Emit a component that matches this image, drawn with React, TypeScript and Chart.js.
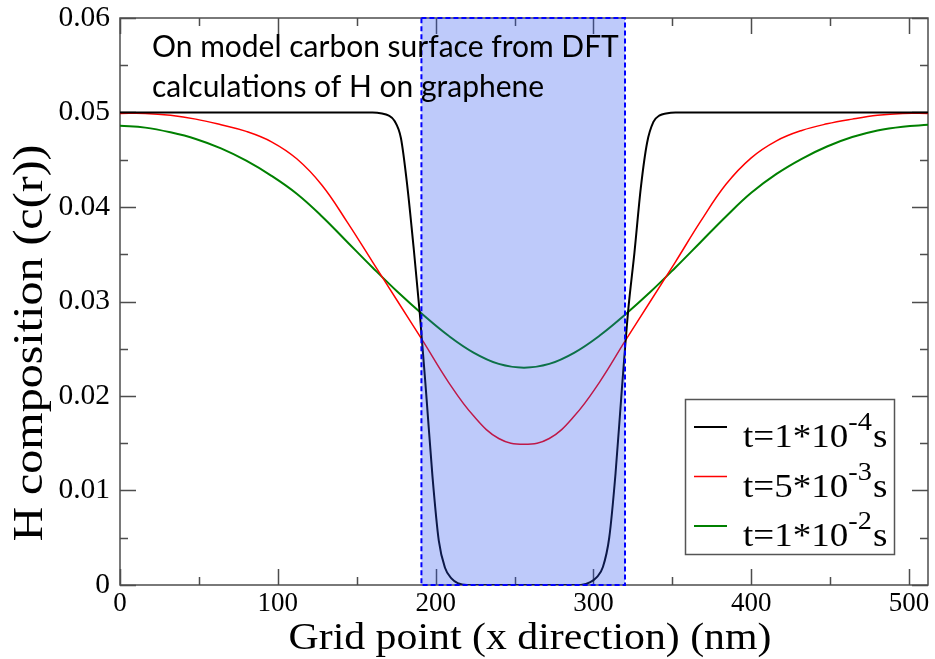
import React, { useEffect, useRef } from 'react';
import { Chart, registerables } from 'chart.js';

Chart.register(...registerables);

// Grid positions (nm) sampled for the two smooth profiles
const gridPoints = [
  0, 16, 32, 48, 64, 80, 96, 112, 128, 144, 160, 176, 192, 208, 224, 240, 256,
  272, 288, 304, 320, 336, 352, 368, 384, 400, 416, 432, 448, 464, 480, 496, 512,
];

// t = 5e-3 s
const redValues = [
  0.0499, 0.0499, 0.0497, 0.0493, 0.0487, 0.048, 0.0469, 0.0451, 0.0423, 0.0384, 0.0342,
  0.03, 0.0258, 0.0215, 0.0179, 0.0155, 0.0149,
  0.0155, 0.0179, 0.0215, 0.0258, 0.03, 0.0342, 0.0385, 0.0424, 0.0452, 0.047,
  0.0481, 0.0488, 0.0493, 0.0497, 0.0499, 0.0499,
];

// t = 1e-2 s
const greenValues = [
  0.0486, 0.0484, 0.0479, 0.0472, 0.0462, 0.0449, 0.0433, 0.0414, 0.039, 0.0363, 0.0336,
  0.031, 0.0286, 0.0264, 0.0246, 0.0234, 0.023,
  0.0234, 0.0246, 0.0264, 0.0286, 0.031, 0.0336, 0.0363, 0.039, 0.0415, 0.0435,
  0.0451, 0.0464, 0.0474, 0.0481, 0.0485, 0.0487,
];

// t = 1e-4 s (sharp step, sampled densely at the edges)
const blackGrid = [
  0, 100, 160, 166, 170, 174, 178, 182, 186, 190, 194, 198, 202, 206, 210, 214, 220, 256,
  292, 298, 302, 306, 310, 314, 318, 322, 326, 330, 334, 338, 342, 346, 352, 412, 512,
];
const blackValues = [
  0.05, 0.05, 0.05, 0.0499, 0.0497, 0.0491, 0.0473, 0.0423, 0.0358, 0.0287, 0.0203, 0.0115,
  0.0047, 0.0018, 0.0007, 0.0002, 0, 0,
  0, 0.0003, 0.0008, 0.0019, 0.005, 0.0118, 0.0207, 0.029, 0.0352, 0.042, 0.0468, 0.049,
  0.0497, 0.0499, 0.05, 0.05, 0.05,
];

const seriesColors = ['#000000', '#ff0000', '#008000'];
const seriesWidths = [2, 1.5, 2];
const legendBase = ['t=1*10', 't=5*10', 't=1*10'];
const legendExp = ['-4', '-3', '-2'];
const legendUnit = 's';

const xMajorTicks = [0, 100, 200, 300, 400, 500];
const xMinorTicks = [50, 150, 250, 350, 450];
const yMajorTicks = [0, 0.01, 0.02, 0.03, 0.04, 0.05, 0.06];
const yMinorTicks = [0.005, 0.015, 0.025, 0.035, 0.045, 0.055];

const regionStart = 191;
const regionEnd = 320;

const noteLines = ['On model carbon surface from DFT', 'calculations of H on graphene'];
const xTitle = 'Grid point (x direction) (nm)';
const yTitle = 'H composition (c(r))';

const SERIF = "'Liberation Serif', 'Times New Roman', serif";
const SANS = "Lato, 'Open Sans', sans-serif";

function stretchedText(ctx: CanvasRenderingContext2D, text: string, x: number, y: number, font: string, sx: number, align: CanvasTextAlign = 'left') {
  ctx.save();
  ctx.font = font;
  ctx.textAlign = align;
  ctx.textBaseline = 'alphabetic';
  ctx.translate(x, y);
  ctx.scale(sx, 1);
  ctx.fillText(text, 0, 0);
  const w = ctx.measureText(text).width * sx;
  ctx.restore();
  return w;
}

const frameAndTicks = {
  id: 'frameAndTicks',
  beforeDatasetsDraw(chart: any) {
    const { ctx, chartArea: a, scales } = chart;
    const xs = scales.x;
    const ys = scales.y;
    ctx.save();
    ctx.strokeStyle = '#4d4d4d';
    ctx.lineWidth = 1.5;
    ctx.beginPath();
    const xTick = (v: number, len: number) => {
      const px = Math.round(xs.getPixelForValue(v)) + 0.5;
      ctx.moveTo(px, a.bottom);
      ctx.lineTo(px, a.bottom - len);
      ctx.moveTo(px, a.top);
      ctx.lineTo(px, a.top + len);
    };
    const yTick = (v: number, len: number) => {
      const py = Math.round(ys.getPixelForValue(v)) + 0.5;
      ctx.moveTo(a.left, py);
      ctx.lineTo(a.left + len, py);
      ctx.moveTo(a.right, py);
      ctx.lineTo(a.right - len, py);
    };
    xMajorTicks.forEach((v) => xTick(v, 16));
    xMinorTicks.forEach((v) => xTick(v, 8));
    yMajorTicks.forEach((v) => yTick(v, 16));
    yMinorTicks.forEach((v) => yTick(v, 8));
    ctx.stroke();
    ctx.strokeRect(a.left, a.top, a.right - a.left, a.bottom - a.top);
    ctx.restore();
  },
  afterDatasetsDraw(chart: any) {
    const { ctx, chartArea: a, scales } = chart;
    const x0 = scales.x.getPixelForValue(regionStart);
    const x1 = scales.x.getPixelForValue(regionEnd);
    ctx.save();
    ctx.fillStyle = 'rgba(40, 80, 240, 0.3)';
    ctx.fillRect(x0, a.top, x1 - x0, a.bottom - a.top);
    ctx.strokeStyle = '#0000ff';
    ctx.lineWidth = 2;
    ctx.setLineDash([5, 3]);
    ctx.strokeRect(x0, a.top, x1 - x0, a.bottom - a.top);
    ctx.restore();
  },
  afterDraw(chart: any) {
    const { ctx, chartArea: a } = chart;
    ctx.save();
    ctx.fillStyle = '#000';

    // note in the upper left corner
    noteLines.forEach((line, i) => {
      stretchedText(ctx, line, a.left + 32, a.top + 39 + i * 40, `30px ${SANS}`, 1, 'left');
    });

    // legend box
    const bx = a.right - 243;
    const by = a.top + 381;
    const bw = 209;
    const bh = 155;
    ctx.fillStyle = '#fff';
    ctx.fillRect(bx, by, bw, bh);
    ctx.strokeStyle = '#555';
    ctx.lineWidth = 1.5;
    ctx.strokeRect(bx + 0.5, by + 0.5, bw, bh);
    legendBase.forEach((base, i) => {
      const ly = by + 28 + i * 49.5;
      ctx.strokeStyle = seriesColors[i];
      ctx.lineWidth = seriesWidths[i];
      ctx.beginPath();
      ctx.moveTo(bx + 9, ly);
      ctx.lineTo(bx + 42, ly);
      ctx.stroke();
      ctx.fillStyle = '#000';
      let tx = bx + 58;
      const baseY = ly + 20;
      tx += stretchedText(ctx, base, tx, baseY, `34px ${SERIF}`, 1.09);
      tx += stretchedText(ctx, legendExp[i], tx, baseY - 17, `26px ${SERIF}`, 1.09);
      stretchedText(ctx, legendUnit, tx + 1, baseY, `34px ${SERIF}`, 1.09);
    });

    // axis titles
    ctx.fillStyle = '#000';
    stretchedText(ctx, xTitle, (a.left + a.right) / 2 + 6, a.bottom + 64, `38px ${SERIF}`, 1.1, 'center');
    ctx.save();
    ctx.translate(42, 343);
    ctx.rotate(-Math.PI / 2);
    ctx.scale(1, 0.88);
    ctx.font = `48px ${SERIF}`;
    ctx.textAlign = 'center';
    ctx.textBaseline = 'alphabetic';
    ctx.fillText(yTitle, 0, 0);
    ctx.restore();

    ctx.restore();
  },
};

export default function App() {
  const canvasRef = useRef<HTMLCanvasElement | null>(null);

  useEffect(() => {
    const canvas = canvasRef.current;
    if (!canvas) return;
    const makeData = (xsArr: number[], ysArr: number[]) => xsArr.map((x, i) => ({ x, y: ysArr[i] }));
    const chart = new Chart(canvas, {
      type: 'line',
      data: {
        datasets: [
          {
            label: legendBase[0] + legendExp[0] + legendUnit,
            data: makeData(blackGrid, blackValues),
            cubicInterpolationMode: 'monotone' as const,
          },
          {
            label: legendBase[1] + legendExp[1] + legendUnit,
            data: makeData(gridPoints, redValues),
            tension: 0.4,
          },
          {
            label: legendBase[2] + legendExp[2] + legendUnit,
            data: makeData(gridPoints, greenValues),
            tension: 0.4,
          },
        ].map((d, i) => ({
          ...d,
          borderColor: seriesColors[i],
          borderWidth: seriesWidths[i],
          pointRadius: 0,
          fill: false,
        })),
      },
      options: {
        animation: false,
        responsive: false,
        devicePixelRatio: 1,
        layout: { padding: { top: 18, right: 7, left: 0, bottom: 0 } },
        plugins: {
          legend: { display: false },
          tooltip: { enabled: false },
          title: { display: false },
        },
        scales: {
          x: {
            type: 'linear',
            min: 0,
            max: 512,
            afterBuildTicks: (s: any) => {
              s.ticks = xMajorTicks.map((value) => ({ value }));
            },
            afterFit: (s: any) => {
              s.height = 74;
              s.paddingLeft = 0;
              s.paddingRight = 0;
            },
            grid: { display: false, drawTicks: false },
            border: { display: false },
            ticks: {
              padding: 3,
              color: '#000',
              autoSkip: false,
              maxRotation: 0,
              font: { family: SERIF, size: 27 },
              callback: (v: any) => String(v),
            },
          },
          y: {
            type: 'linear',
            min: 0,
            max: 0.06,
            afterBuildTicks: (s: any) => {
              s.ticks = yMajorTicks.map((value) => ({ value }));
            },
            afterFit: (s: any) => {
              s.width = 120;
              s.paddingTop = 0;
              s.paddingBottom = 0;
            },
            grid: { display: false, drawTicks: false },
            border: { display: false },
            ticks: {
              padding: 10,
              color: '#000',
              autoSkip: false,
              font: { family: SERIF, size: 29.5 },
              callback: (v: any) => (Number(v) === 0 ? '0' : Number(v).toFixed(2)),
            },
          },
        },
      },
      plugins: [frameAndTicks],
    });
    return () => chart.destroy();
  }, []);

  return (
    <div style={{ position: 'absolute', left: 0, top: 0, width: 935, height: 659, background: '#fff' }}>
      <canvas ref={canvasRef} width={935} height={659} style={{ display: 'block' }} />
    </div>
  );
}
